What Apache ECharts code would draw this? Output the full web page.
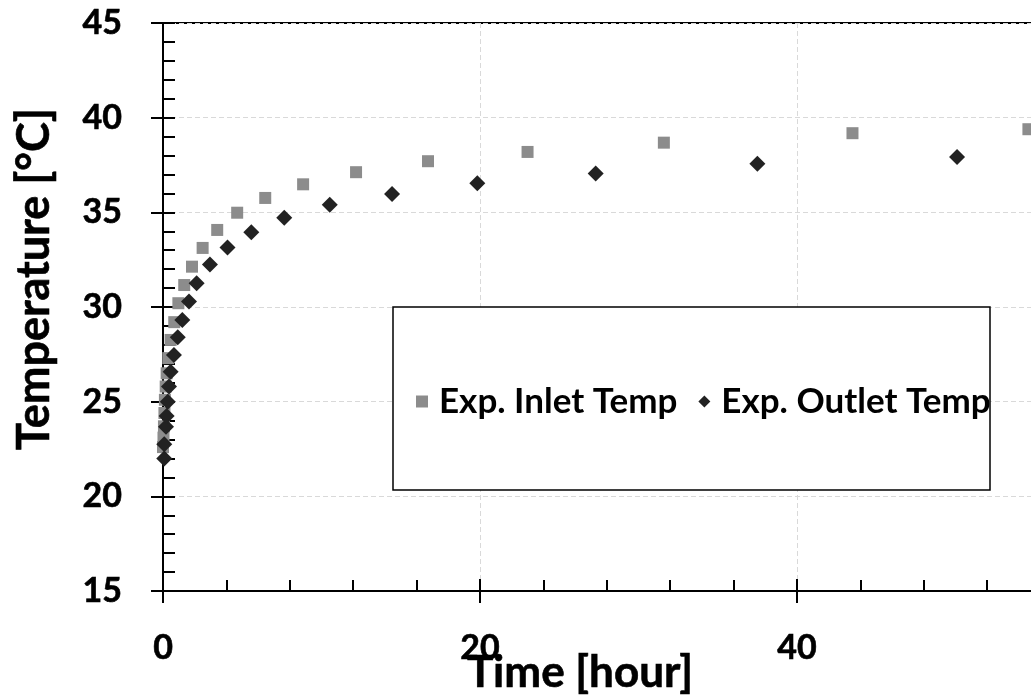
<!DOCTYPE html>
<html>
<head>
<meta charset="utf-8">
<script src="https://cdn.jsdelivr.net/npm/echarts@6/dist/echarts.min.js"></script>
<style>html,body{margin:0;padding:0;background:#fff;}#c{width:1031px;height:700px;}</style>
</head>
<body>
<div id="c"></div>
<script>
// ---- data ----
const inletName = 'Exp. Inlet Temp';
const outletName = 'Exp. Outlet Temp';
const inletTime = [0.0, 0.03, 0.06, 0.09, 0.12, 0.17, 0.23, 0.33, 0.48, 0.71, 0.97, 1.34, 1.83, 2.50, 3.42, 4.68, 6.45, 8.84, 12.18, 16.72, 23.0, 31.6, 43.5, 54.6];
const inletTemp = [22.6, 23.1, 23.7, 24.4, 25.1, 25.8, 26.5, 27.3, 28.26, 29.2, 30.2, 31.16, 32.13, 33.12, 34.07, 34.98, 35.76, 36.48, 37.12, 37.7, 38.19, 38.68, 39.18, 39.39];
const outletTime = [0.08, 0.08, 0.19, 0.23, 0.30, 0.38, 0.48, 0.69, 0.93, 1.22, 1.64, 2.12, 2.96, 4.07, 5.57, 7.65, 10.52, 14.45, 19.83, 27.3, 37.5, 50.1];
const outletTemp = [22.0, 22.75, 23.68, 24.24, 25.0, 25.8, 26.58, 27.47, 28.4, 29.31, 30.29, 31.26, 32.24, 33.14, 33.95, 34.72, 35.4, 35.97, 36.54, 37.05, 37.57, 37.92];
const xTitle = 'Time [hour]';
const yTitle = 'Temperature [°C]';
const xMin = 0, xMax = 60, xStep = 20;
const yMin = 15, yMax = 45, yStep = 5;

const FONT = 'Lato';
const gridBox = {left: 163, top: 23, width: 951, height: 568, containLabel: false, outerBoundsMode: 'none'};
const chart = echarts.init(document.getElementById('c'));
const pair = (xs, ys) => xs.map((x, i) => [x, ys[i]]);

const axisLine = {show: true, onZero: false, lineStyle: {color: '#000', width: 2}};
const label = {color: '#000', fontFamily: FONT, fontWeight: 'bold', fontSize: 34, textBorderColor: '#000', textBorderWidth: 0.6};

chart.setOption({
  animation: false,
  backgroundColor: '#fff',
  grid: [
    Object.assign({show: true, borderColor: '#000', borderWidth: 2, backgroundColor: 'transparent'}, gridBox),
    Object.assign({}, gridBox)
  ],
  xAxis: [
    {type: 'value', gridIndex: 0, min: xMin, max: xMax, interval: xStep, position: 'bottom',
     axisLine: axisLine,
     axisTick: {show: true, inside: true, length: 12, lineStyle: {color: '#000', width: 2}},
     minorTick: {show: true, splitNumber: 5, length: 11, lineStyle: {color: '#000', width: 2}},
     axisLabel: Object.assign({margin: 40}, label),
     splitLine: {show: true, lineStyle: {color: '#d9d9d9', width: 1, type: [5, 3]}}},
    {type: 'value', gridIndex: 1, min: xMin, max: xMax, interval: xStep, position: 'bottom',
     axisLine: axisLine,
     axisTick: {show: true, inside: false, length: 12, lineStyle: {color: '#000', width: 2}},
     axisLabel: {show: false}, splitLine: {show: false}}
  ],
  yAxis: [
    {type: 'value', gridIndex: 0, min: yMin, max: yMax, interval: yStep, position: 'left',
     axisLine: axisLine,
     axisTick: {show: true, inside: true, length: 12, lineStyle: {color: '#000', width: 2}},
     minorTick: {show: true, splitNumber: 5, length: 12, lineStyle: {color: '#000', width: 2}},
     axisLabel: Object.assign({margin: 41}, label),
     splitLine: {show: true, lineStyle: {color: '#d9d9d9', width: 1, type: [5, 3]}}},
    {type: 'value', gridIndex: 1, min: yMin, max: yMax, interval: yStep, position: 'left',
     axisLine: axisLine,
     axisTick: {show: true, inside: false, length: 12, lineStyle: {color: '#000', width: 2}},
     axisLabel: {show: false}, splitLine: {show: false}}
  ],
  legend: {
    left: 411, top: 379, itemGap: 21, itemWidth: 12, itemHeight: 12,
    data: [inletName, outletName],
    textStyle: {color: '#000', fontFamily: FONT, fontWeight: 'bold', fontSize: 35, padding: [0, 0, 0, 6]}
  },
  graphic: [
    {type: 'rect', z: 3, shape: {x: 393, y: 307, width: 597, height: 183},
     style: {fill: '#fff', stroke: '#000', lineWidth: 1.5}},
    {type: 'text', x: 580, y: 673, style: {text: xTitle, fill: '#000', font: 'bold 44px ' + FONT, align: 'center', verticalAlign: 'middle', stroke: '#000', lineWidth: 0.6}},
    {type: 'text', x: 34, y: 279, rotation: Math.PI / 2, style: {text: yTitle, fill: '#000', font: 'bold 45px ' + FONT, align: 'center', verticalAlign: 'middle', stroke: '#000', lineWidth: 0.6}}
  ],
  series: [
    {name: inletName, type: 'scatter', xAxisIndex: 0, yAxisIndex: 0, symbol: 'rect', symbolSize: 12,
     itemStyle: {color: '#8c8c8c', opacity: 1}, clip: false, data: pair(inletTime, inletTemp)},
    {name: outletName, type: 'scatter', xAxisIndex: 0, yAxisIndex: 0, symbol: 'diamond', symbolSize: 16,
     itemStyle: {color: '#222222', opacity: 1}, clip: false, data: pair(outletTime, outletTemp)}
  ]
});
</script>
</body>
</html>
